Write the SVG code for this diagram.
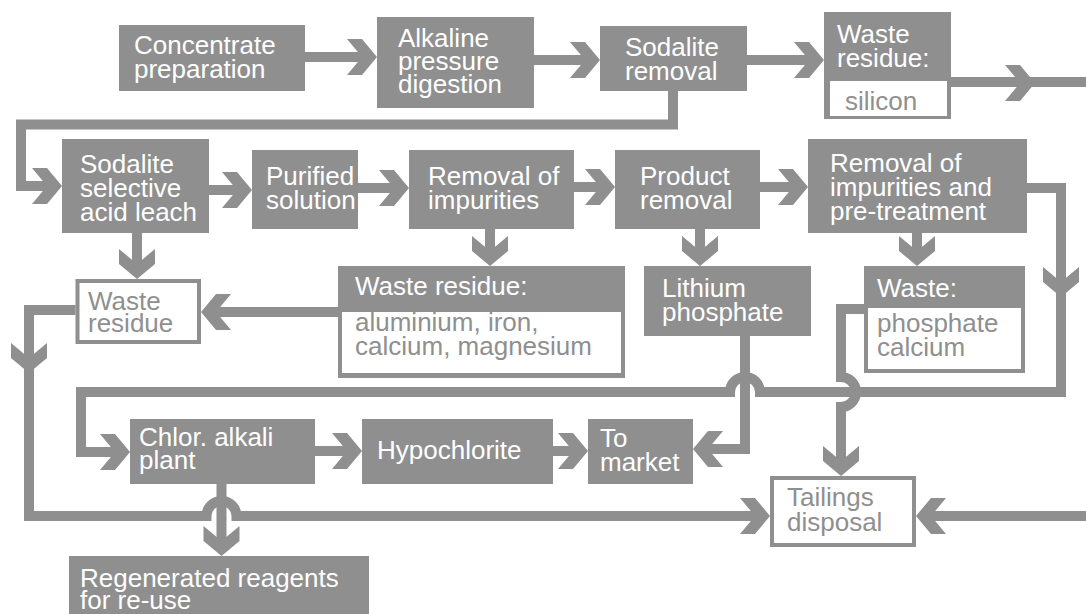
<svg xmlns="http://www.w3.org/2000/svg" width="1086" height="614" viewBox="0 0 1086 614">
<style>
.b{fill:#8f8f8f}
.w{fill:#fff}
.wb{fill:#fff;stroke:#8f8f8f;stroke-width:4}
.t{font-family:"Liberation Sans",Arial,sans-serif;font-size:26px;fill:#fff}
.g{fill:#8f8f8f}
.c{fill:none;stroke:#8f8f8f;stroke-width:10;stroke-linejoin:miter}
</style>
<defs>
<path id="ch" d="M-30,-18 L-15,-18 L0,0 L-15,18 L-30,18 L-15,0 Z" fill="#8f8f8f"/>
</defs>
<rect width="1086" height="614" fill="#fff"/>
<g id="connectors">
<g class="c">
<path d="M305,57 H366"/>
<path d="M534,60 H588"/>
<path d="M747,60 H812"/>
<path d="M951,82 H1086"/>
<path d="M673,91 V124.5 H21 V186 H50"/>
<path d="M209,190 H240"/>
<path d="M358,188 H397"/>
<path d="M574,187 H603"/>
<path d="M760,187 H796"/>
<path d="M1027,188 H1061 V392 H760 A15,15 0 0 0 730,392 H81 V452 H118"/>
<path d="M137,233 V267"/>
<path d="M490,229 V254"/>
<path d="M700,229 V254"/>
<path d="M917,233 V254"/>
<path d="M338,312 H213"/>
<path d="M75.5,310 H29 V516 H206.5 A15,15 0 0 1 236.5,516 H758"/>
<path d="M315,451 H350"/>
<path d="M553,451 H576"/>
<path d="M745,336 V449 H705"/>
<path d="M864,309 H841 V377 A15,15 0 0 1 841,407 V464"/>
<path d="M221.5,484 V544"/>
<path d="M1086,516 H928"/>
</g>
<use href="#ch" transform="translate(377,57)"/>
<use href="#ch" transform="translate(600,60)"/>
<use href="#ch" transform="translate(824,60)"/>
<use href="#ch" transform="translate(1035,83)"/>
<use href="#ch" transform="translate(62,186)"/>
<use href="#ch" transform="translate(252,190)"/>
<use href="#ch" transform="translate(409,188)"/>
<use href="#ch" transform="translate(615,187)"/>
<use href="#ch" transform="translate(808,187)"/>
<use href="#ch" transform="translate(1061,297) rotate(90)"/>
<use href="#ch" transform="translate(130,452)"/>
<use href="#ch" transform="translate(137,279) rotate(90)"/>
<use href="#ch" transform="translate(490,266) rotate(90)"/>
<use href="#ch" transform="translate(700,266) rotate(90)"/>
<use href="#ch" transform="translate(917,266) rotate(90)"/>
<use href="#ch" transform="translate(201,312) rotate(180)"/>
<use href="#ch" transform="translate(29,373) rotate(90)"/>
<use href="#ch" transform="translate(770,516)"/>
<use href="#ch" transform="translate(362,451)"/>
<use href="#ch" transform="translate(588,451)"/>
<use href="#ch" transform="translate(693,449) rotate(180)"/>
<use href="#ch" transform="translate(841,476) rotate(90)"/>
<use href="#ch" transform="translate(221.5,556) rotate(90)"/>
<use href="#ch" transform="translate(916,516) rotate(180)"/>
</g>
<g id="concentrate"><rect class="b" x="119" y="25" width="186" height="66"/><text class="t"><tspan x="134" y="54">Concentrate</tspan><tspan x="134" y="78">preparation</tspan></text></g>
<g id="alkaline"><rect class="b" x="377" y="17" width="157" height="91"/><text class="t"><tspan x="398" y="47">Alkaline</tspan><tspan x="398" y="70">pressure</tspan><tspan x="398" y="93">digestion</tspan></text></g>
<g id="sodalite-removal"><rect class="b" x="600" y="26" width="147" height="65"/><text class="t"><tspan x="625" y="56">Sodalite</tspan><tspan x="625" y="80">removal</tspan></text></g>
<g id="waste-silicon"><rect class="b" x="824" y="12" width="127" height="107"/><rect class="w" x="830" y="81" width="117" height="35"/><text class="t"><tspan x="837" y="43">Waste</tspan><tspan x="837" y="67">residue:</tspan></text><text class="t g" x="845" y="110">silicon</text></g>
<g id="sodalite-leach"><rect class="b" x="62" y="139" width="147" height="94"/><text class="t"><tspan x="80" y="173">Sodalite</tspan><tspan x="80" y="197">selective</tspan><tspan x="80" y="221">acid leach</tspan></text></g>
<g id="purified"><rect class="b" x="252" y="150" width="106" height="79"/><text class="t"><tspan x="266" y="185">Purified</tspan><tspan x="266" y="209">solution</tspan></text></g>
<g id="removal-impurities"><rect class="b" x="409" y="150" width="165" height="79"/><text class="t"><tspan x="428" y="185">Removal of</tspan><tspan x="428" y="209">impurities</tspan></text></g>
<g id="product-removal"><rect class="b" x="615" y="150" width="145" height="79"/><text class="t"><tspan x="640" y="185">Product</tspan><tspan x="640" y="209">removal</tspan></text></g>
<g id="pretreatment"><rect class="b" x="808" y="139" width="219" height="94"/><text class="t"><tspan x="830" y="172">Removal of</tspan><tspan x="830" y="196">impurities and</tspan><tspan x="830" y="220">pre-treatment</tspan></text></g>
<g id="waste-residue-left"><rect class="wb" x="77.5" y="281" width="121.5" height="61"/><text class="t g"><tspan x="88" y="310">Waste</tspan><tspan x="88" y="332">residue</tspan></text></g>
<g id="waste-metals"><rect class="b" x="338" y="266" width="287" height="112"/><rect class="w" x="342" y="312" width="279" height="61"/><text class="t" x="355" y="295">Waste residue:</text><text class="t g"><tspan x="355" y="331">aluminium, iron,</tspan><tspan x="355" y="355">calcium, magnesium</tspan></text></g>
<g id="lithium"><rect class="b" x="644" y="266" width="167" height="70"/><text class="t"><tspan x="662" y="297">Lithium</tspan><tspan x="662" y="321">phosphate</tspan></text></g>
<g id="waste-phosphate"><rect class="b" x="864" y="266" width="161" height="107"/><rect class="w" x="868" y="308" width="153" height="61"/><text class="t" x="877" y="297">Waste:</text><text class="t g"><tspan x="877" y="332">phosphate</tspan><tspan x="877" y="356">calcium</tspan></text></g>
<g id="chlor-alkali"><rect class="b" x="130" y="419" width="185" height="65"/><text class="t"><tspan x="139" y="446">Chlor. alkali</tspan><tspan x="139" y="469">plant</tspan></text></g>
<g id="hypochlorite"><rect class="b" x="362" y="419" width="191" height="65"/><text class="t" x="377" y="459">Hypochlorite</text></g>
<g id="to-market"><rect class="b" x="588" y="419" width="105" height="65"/><text class="t"><tspan x="600" y="447">To</tspan><tspan x="600" y="471">market</tspan></text></g>
<g id="tailings"><rect class="wb" x="772" y="478" width="142" height="67"/><text class="t g"><tspan x="787" y="506">Tailings</tspan><tspan x="787" y="531">disposal</tspan></text></g>
<g id="regenerated"><rect class="b" x="69" y="556" width="300" height="60"/><text class="t"><tspan x="80" y="587">Regenerated reagents</tspan><tspan x="80" y="609">for re-use</tspan></text></g>
</svg>
